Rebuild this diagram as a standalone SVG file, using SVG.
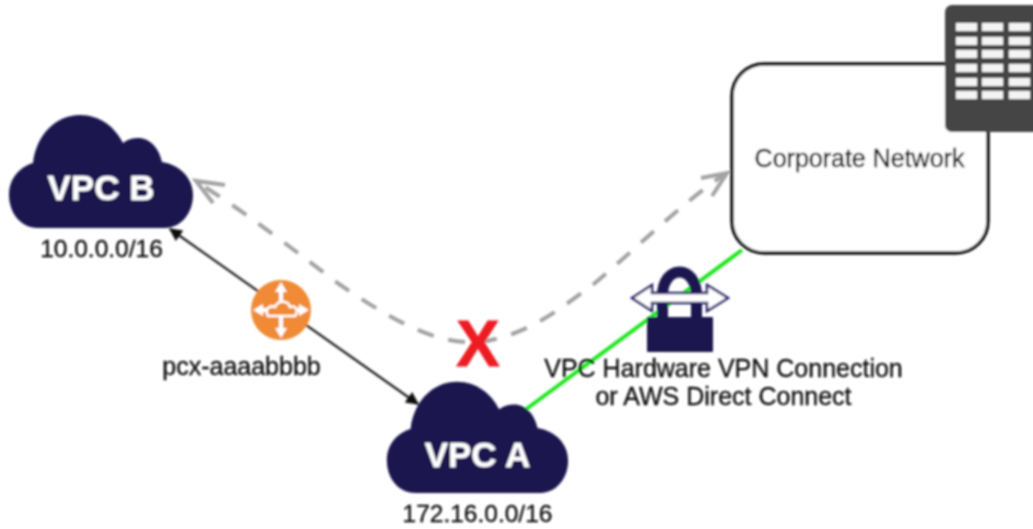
<svg xmlns="http://www.w3.org/2000/svg" width="1033" height="529" viewBox="0 0 1033 529">
<style>
text{font-family:"Liberation Sans",Arial,sans-serif;fill:#111;stroke:#111;stroke-width:.35;font-size:25px;text-anchor:middle}
.ip{font-size:24.5px}
.vpc{font-weight:bold;font-size:35px;fill:#fff;stroke:#fff}
.cloud{fill:#1b1650}
.win{fill:#f4f4f4}
.dash{fill:none;stroke:#a3a3a3;stroke-width:4;stroke-dasharray:17 15}
</style>
<defs>
<filter id="soft" x="-5%" y="-5%" width="110%" height="110%"><feGaussianBlur stdDeviation="0.9"/></filter>
<path id="cloudShape" d="M38 228C20 228 9 212 9 195C9 178 20 167 33 163C36 135 56 115 80 115C100 115 115 127 123 143C128 139 133 138 138 138C150 138 159 148 162 162C180 165 193 178 193 195C193 214 180 228 165 228Z"/>
<marker id="blk" viewBox="0 0 10 10" refX="9" refY="5" markerWidth="19" markerHeight="13" markerUnits="userSpaceOnUse" orient="auto-start-reverse"><path d="M0 0L10 5L0 10Z" fill="#111"/></marker>
</defs>
<rect width="1033" height="529" fill="#fff"/>
<g filter="url(#soft)">
<g id="connectors">
<path d="M170 229L418 404" fill="none" stroke="#222" stroke-width="2.2" marker-start="url(#blk)" marker-end="url(#blk)"/>
<path d="M525 410L742 250" fill="none" stroke="#22e622" stroke-width="4"/>
<path class="dash" d="M465 342C425 340 380 312 339 284C300 255 250 215 200 184"/>
<path d="M225 185L196 181L213 203" fill="none" stroke="#a3a3a3" stroke-width="4"/>
<path class="dash" d="M480 342C530 335 565 305 595 283C640 245 680 205 722 176"/>
<path d="M701 178L727 173L712 196" fill="none" stroke="#a3a3a3" stroke-width="4"/>
</g>
<g id="corporate-network">
<rect x="732" y="64" width="256" height="189" rx="32" fill="#fff" stroke="#111" stroke-width="3.5"/>
<text x="859.5" y="167">Corporate Network</text>
</g>
<g id="building">
<rect x="945" y="5" width="95" height="127" rx="7" fill="#444"/>
<g class="win">
<rect x="956" y="23" width="21" height="8"/><rect x="982" y="23" width="21" height="8"/><rect x="1009" y="23" width="21" height="8"/>
<rect x="956" y="37" width="21" height="8"/><rect x="982" y="37" width="21" height="8"/><rect x="1009" y="37" width="21" height="8"/>
<rect x="956" y="50" width="21" height="8"/><rect x="982" y="50" width="21" height="8"/><rect x="1009" y="50" width="21" height="8"/>
<rect x="956" y="64" width="21" height="8"/><rect x="982" y="64" width="21" height="8"/><rect x="1009" y="64" width="21" height="8"/>
<rect x="956" y="78" width="21" height="8"/><rect x="982" y="78" width="21" height="8"/><rect x="1009" y="78" width="21" height="8"/>
<rect x="956" y="91" width="21" height="8"/><rect x="982" y="91" width="21" height="8"/><rect x="1009" y="91" width="21" height="8"/>
</g>
</g>
<g id="vpc-b">
<use href="#cloudShape" class="cloud"/>
<text class="vpc" x="101" y="200">VPC B</text>
<text class="ip" x="101.500" y="257">10.0.0.0/16</text>
</g>
<g id="vpc-a">
<use href="#cloudShape" class="cloud" transform="translate(378 268.500) scale(.985)"/>
<text class="vpc" x="477.500" y="467">VPC A</text>
<text class="ip" x="477.500" y="522">172.16.0.0/16</text>
</g>
<g id="peering">
<circle cx="281" cy="310" r="30" fill="#f08a35"/>
<path d="M281 288V332M259 310H303" stroke="#fff" stroke-width="4" fill="none"/>
<path d="M281 282l-6 10h12zM281 338l-6-10h12zM253 310l10-6v12zM309 310l-10-6v12z" fill="#fff"/>
<path d="M268 316C264 309 270 305 275 307C278 300 288 300 290 307C296 305 299 311 295 316Z" fill="#f08a35" stroke="#fff" stroke-width="2.500"/>
<text x="241.500" y="375">pcx-aaaabbbb</text>
</g>
<g id="vpn-lock">
<path d="M662.500 317V296C662.500 264 696.500 264 696.500 296V317" fill="none" stroke="#1b1650" stroke-width="11"/>
<rect x="647" y="317" width="66" height="35" rx="1" fill="#1b1650"/>
<path d="M632 298L652 285V293H707V285L728 298L707 311V303H652V311Z" fill="#fff" stroke="#2a2668" stroke-width="2.500"/>
<text x="723.500" y="377">VPC Hardware VPN Connection</text>
<text x="723.500" y="405">or AWS Direct Connect</text>
</g>
<g id="blocked">
<text x="478" y="366" style="font-size:65px;font-weight:bold;fill:#ed1c24;stroke:#ed1c24;stroke-width:1">X</text>
</g>
</g>
</svg>
